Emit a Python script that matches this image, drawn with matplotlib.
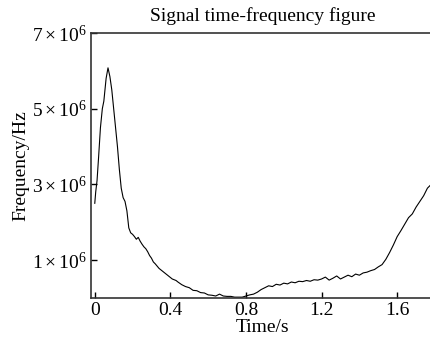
import numpy as np
import matplotlib.pyplot as plt
from matplotlib.ticker import FuncFormatter

plt.rcParams['font.family'] = ['Liberation Serif', 'DejaVu Serif']
plt.rcParams['mathtext.fontset'] = 'custom'
plt.rcParams['mathtext.rm'] = 'Liberation Serif'
plt.rcParams['mathtext.it'] = 'Liberation Serif:italic'

# time (s) and frequency (Hz)
time = [0.0, 0.005, 0.012, 0.02, 0.03, 0.04, 0.048, 0.06, 0.07, 0.08, 0.09,
        0.10, 0.11, 0.12, 0.13, 0.14, 0.15, 0.16, 0.17, 0.18, 0.19, 0.20,
        0.21, 0.22, 0.23, 0.24, 0.25, 0.26, 0.27, 0.28, 0.29, 0.30, 0.31,
        0.32, 0.34, 0.36, 0.37, 0.39, 0.41, 0.43, 0.44, 0.46, 0.48, 0.50,
        0.52, 0.54, 0.56, 0.58, 0.60, 0.62, 0.64, 0.66, 0.68, 0.70, 0.72,
        0.74, 0.76, 0.78, 0.80, 0.82, 0.84, 0.86, 0.88, 0.90, 0.92, 0.94,
        0.96, 0.98, 1.00, 1.02, 1.04, 1.06, 1.08, 1.10, 1.12, 1.14, 1.16,
        1.18, 1.20, 1.22, 1.24, 1.26, 1.28, 1.30, 1.32, 1.34, 1.36, 1.38,
        1.40, 1.42, 1.44, 1.46, 1.48, 1.50, 1.52, 1.54, 1.56, 1.58, 1.60,
        1.62, 1.64, 1.66, 1.68, 1.70, 1.72, 1.74, 1.76, 1.78, 1.80]
freq = [2.5, 2.8, 3.1, 3.7, 4.5, 5.0, 5.2, 5.8, 6.08, 5.85, 5.5,
        5.0, 4.5, 4.0, 3.4, 2.9, 2.65, 2.55, 2.3, 1.85, 1.72, 1.68,
        1.62, 1.55, 1.6, 1.5, 1.42, 1.35, 1.3, 1.22, 1.12, 1.05, 0.95,
        0.9, 0.78, 0.7, 0.66, 0.58, 0.5, 0.46, 0.42, 0.35, 0.3, 0.27,
        0.2, 0.19, 0.14, 0.13, 0.08, 0.07, 0.05, 0.1, 0.05, 0.04, 0.04,
        0.02, 0.02, 0.02, 0.05, 0.08, 0.1, 0.15, 0.22, 0.27, 0.32, 0.3,
        0.36, 0.34, 0.39, 0.37, 0.42, 0.4, 0.44, 0.43, 0.46, 0.44, 0.48,
        0.47, 0.5, 0.55, 0.47, 0.52, 0.58, 0.5, 0.55, 0.6, 0.56, 0.63,
        0.6, 0.66, 0.68, 0.72, 0.75, 0.82, 0.88, 1.02, 1.2, 1.4, 1.62,
        1.78, 1.95, 2.12, 2.22, 2.4, 2.55, 2.7, 2.9, 3.0, 3.15]
freq_hz = np.array(freq) * 1e6

y_ticks = [1e6, 3e6, 5e6, 7e6]
x_ticks = [0, 0.4, 0.8, 1.2, 1.6]
x_labels = ['0', '0.4', '0.8', '1.2', '1.6']

fig = plt.figure(figsize=(4.3, 3.44), dpi=100)
ax = fig.add_axes([0.2116, 0.134, 0.80, 0.770])

ax.plot(time, freq_hz, color='black', linewidth=0.8)

ax.set_xlim(-0.02, 1.8)
ax.set_ylim(0, 7e6)
ax.set_xticks(x_ticks)
ax.set_xticklabels(x_labels)
ax.set_yticks(y_ticks)
ax.yaxis.set_major_formatter(FuncFormatter(
    lambda v, p: r'$%d\times10^{6}$' % round(v / 1e6)))
ax.tick_params(direction='in', labelsize=14, length=4, width=1, pad=3)

for side in ['left', 'bottom', 'top']:
    ax.spines[side].set_linewidth(1.2)
    ax.spines[side].set_color('#333333')
ax.spines['right'].set_visible(False)

ax.set_xlabel('Time/s', fontsize=14, labelpad=0)
ax.set_ylabel('Frequency/Hz', fontsize=14)
ax.yaxis.set_label_coords(-0.178, 0.5)
ax.set_title('Signal time-frequency figure', fontsize=14, pad=9)

fig.savefig('out.png', dpi=100)
